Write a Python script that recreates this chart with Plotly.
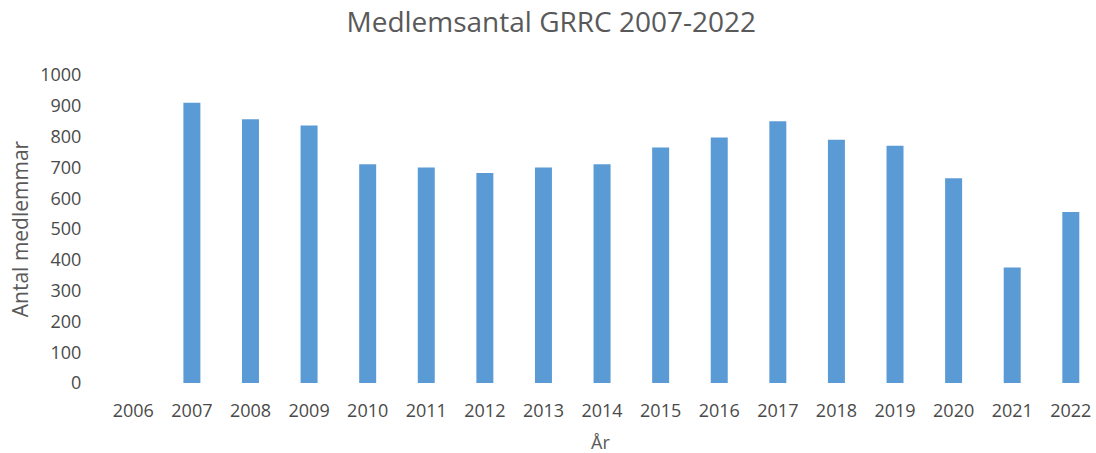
import plotly.graph_objects as go

years = [str(y) for y in range(2006, 2023)]
members = [None, 910, 856, 836, 710, 700, 682, 700, 710, 765, 797, 850, 790, 770, 665, 375, 555]
y_ticks = list(range(0, 1001, 100))

fig = go.Figure(go.Bar(
    x=years, y=members,
    marker=dict(color="#5B9BD5", line=dict(width=0)),
))

fig.update_layout(
    width=1096, height=453,
    paper_bgcolor="white", plot_bgcolor="white",
    margin=dict(l=104, r=0, t=75, b=70),
    title=dict(text="Medlemsantal GRRC 2007-2022", x=0.503, xanchor="center",
               y=0.952, yanchor="middle",
               font=dict(family="Open Sans", size=28, color="#595959")),
    bargap=0.71,
    showlegend=False,
    font=dict(family="Open Sans", color="#595959"),
    annotations=[dict(
        text="År", xref="paper", yref="paper", x=0.5, y=-0.192,
        xanchor="center", yanchor="middle", showarrow=False,
        font=dict(size=18, color="#595959"),
    )],
)
fig.update_xaxes(
    type="category", range=[-0.5, 16.43], showgrid=False, showline=False,
    ticks="outside", ticklen=11, tickcolor="rgba(0,0,0,0)",
    tickfont=dict(size=18, color="#4a4a4a"),
)
fig.update_yaxes(
    range=[0, 1000], tickvals=y_ticks, showgrid=False, showline=False,
    ticks="outside", ticklen=18, tickcolor="rgba(0,0,0,0)",
    zeroline=False,
    tickfont=dict(size=18, color="#4a4a4a"),
    title=dict(text="Antal medlemmar", font=dict(size=21, color="#595959"), standoff=5),
)

fig.write_html("out.html", config={"displayModeBar": False},
               post_script="document.body.style.margin='0';")
